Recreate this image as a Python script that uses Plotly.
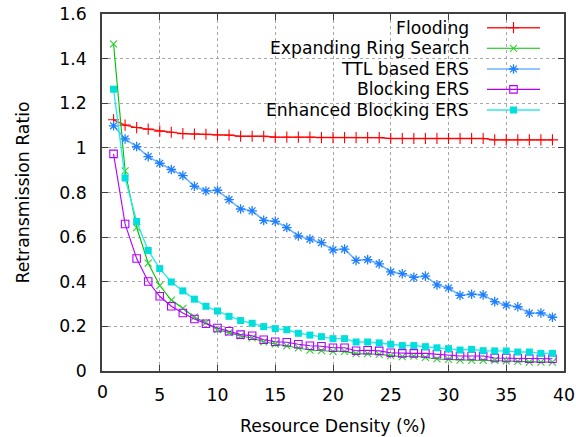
import plotly.graph_objects as go

density = list(range(1, 40))

flooding = [1.126, 1.102, 1.091, 1.084, 1.075, 1.070, 1.064, 1.062, 1.061, 1.058,
            1.057, 1.052, 1.052, 1.052, 1.048, 1.048, 1.048, 1.048, 1.046, 1.046,
            1.046, 1.046, 1.046, 1.046, 1.042, 1.042, 1.042, 1.042, 1.042, 1.042,
            1.042, 1.042, 1.042, 1.036, 1.036, 1.036, 1.036, 1.036, 1.036]

ers = [1.466, 0.897, 0.643, 0.483, 0.383, 0.318, 0.281, 0.241, 0.217, 0.185,
       0.172, 0.157, 0.148, 0.131, 0.121, 0.113, 0.104, 0.094, 0.091, 0.088,
       0.088, 0.078, 0.078, 0.075, 0.069, 0.064, 0.067, 0.061, 0.054, 0.052,
       0.049, 0.048, 0.048, 0.048, 0.045, 0.043, 0.040, 0.040, 0.040]

ttl_ers = [1.099, 1.040, 1.006, 0.961, 0.931, 0.903, 0.876, 0.828, 0.807, 0.810,
           0.768, 0.726, 0.718, 0.675, 0.671, 0.643, 0.605, 0.591, 0.575, 0.543,
           0.546, 0.496, 0.499, 0.480, 0.444, 0.436, 0.420, 0.425, 0.386, 0.372,
           0.339, 0.344, 0.341, 0.311, 0.295, 0.288, 0.259, 0.260, 0.241]

blocking = [0.973, 0.659, 0.504, 0.401, 0.335, 0.290, 0.260, 0.233, 0.212, 0.193,
            0.178, 0.163, 0.158, 0.140, 0.131, 0.129, 0.120, 0.113, 0.111, 0.104,
            0.104, 0.091, 0.093, 0.090, 0.082, 0.079, 0.079, 0.079, 0.075, 0.070,
            0.067, 0.067, 0.067, 0.058, 0.058, 0.058, 0.055, 0.055, 0.055]

enhanced = [1.263, 0.865, 0.670, 0.540, 0.459, 0.399, 0.359, 0.322, 0.290, 0.269,
            0.245, 0.226, 0.214, 0.199, 0.190, 0.185, 0.169, 0.161, 0.154, 0.145,
            0.145, 0.130, 0.130, 0.126, 0.120, 0.114, 0.114, 0.109, 0.104, 0.100,
            0.094, 0.097, 0.091, 0.090, 0.090, 0.085, 0.085, 0.079, 0.079]

series_names = ["Flooding", "Expanding Ring Search", "TTL based ERS",
                "Blocking ERS", "Enhanced Blocking ERS"]
x_ticks = [0, 5, 10, 15, 20, 25, 30, 35, 40]
x_tick_text = ["0", "5", "10", "15", "20", "25", "30", "35", "40"]
y_ticks = [0, 0.2, 0.4, 0.6, 0.8, 1.0, 1.2, 1.4, 1.6]
y_tick_text = ["0", "0.2", "0.4", "0.6", "0.8", "1", "1.2", "1.4", "1.6"]

FONT = "DejaVu Sans"
FS = 17.3
styles = [
    dict(line=dict(color="#ff2020", width=1.4), marker=dict(symbol="cross-thin-open", size=8, color="#ff0000", line=dict(width=1.1, color="#ff0000"))),
    dict(line=dict(color="#00c000", width=1.1), marker=dict(symbol="x-thin-open", size=7, color="#30d030", line=dict(width=1.1, color="#30d030"))),
    dict(line=dict(color="#70b4ff", width=1.6), marker=dict(symbol="asterisk-open", size=8, color="#1f7fff", line=dict(width=1.3, color="#1f7fff"))),
    dict(line=dict(color="#b000ff", width=1.1), marker=dict(symbol="square-open", size=7.5, color="#b000ff", line=dict(width=1.1, color="#b000ff"))),
    dict(line=dict(color="#30e8e8", width=1.4), marker=dict(symbol="square", size=7, color="#00dede", line=dict(width=0))),
]
data = [flooding, ers, ttl_ers, blocking, enhanced]

fig = go.Figure()
for name, vals, st in zip(series_names, data, styles):
    fig.add_trace(go.Scatter(x=density, y=vals, name=name, mode="lines+markers",
                             line=st["line"], marker=st["marker"], showlegend=False))

# Gnuplot-style key: right-aligned text with the sample on its right.
# Drawn on an overlay axis measured in pixels of the plot area.
key_rows = [27.7, 48.3, 69.0, 89.4, 110.0]
for name, yy, st in zip(series_names, key_rows, styles):
    fig.add_trace(go.Scatter(x=[487, 540], y=[yy, yy], mode="lines", line=st["line"],
                             xaxis="x2", yaxis="y2", showlegend=False, hoverinfo="skip"))
    fig.add_trace(go.Scatter(x=[513.5], y=[yy], mode="markers", marker=st["marker"],
                             xaxis="x2", yaxis="y2", showlegend=False, hoverinfo="skip"))
    fig.add_annotation(x=471, y=yy, xref="x2", yref="y2", text=name, showarrow=False,
                       xanchor="right", yanchor="middle",
                       font=dict(family=FONT, size=17.2, color="#000000"))

# plotly drops the corner "0" x tick label here, so it is placed as a text at x = 0
fig.add_annotation(x=x_ticks[0], y=0, xref="x", yref="paper", text=x_tick_text[0],
                   showarrow=False, xanchor="center", yanchor="middle", yshift=-21,
                   font=dict(family=FONT, size=FS, color="#000000"))

axis_common = dict(showline=True, linecolor="#404040", linewidth=1.5, mirror="ticks",
                   ticks="inside", ticklen=6, tickcolor="#404040", tickwidth=1,
                   showgrid=True, gridcolor="#a8a8a8", griddash="dot", gridwidth=1,
                   zeroline=False, automargin=False,
                   tickfont=dict(family=FONT, size=FS, color="#000000"))

fig.update_layout(
    width=576, height=437,
    margin=dict(l=102, r=12, t=14, b=66),
    paper_bgcolor="white", plot_bgcolor="white",
    font=dict(family=FONT, color="#000000"),
    xaxis=dict(range=[0, 40], tickvals=x_ticks[1:], ticktext=x_tick_text[1:], ticklabelstandoff=7,
               title=dict(text="Resource Density (%)", font=dict(family=FONT, size=FS), standoff=16),
               **axis_common),
    yaxis=dict(range=[0, 1.6], tickvals=y_ticks, ticktext=y_tick_text, ticklabelstandoff=10,
               title=dict(text="Retransmission Ratio", font=dict(family=FONT, size=FS), standoff=25),
               **axis_common),
    xaxis2=dict(overlaying="x", range=[102, 564], visible=False, fixedrange=True),
    yaxis2=dict(overlaying="y", range=[371, 14], visible=False, fixedrange=True),
)

# remove the browser's default 8px body margin so the figure sits at the window origin
fig.write_html("out.html", config={"displayModeBar": False},
               post_script="document.body.style.margin='0';document.body.style.overflow='hidden';")
